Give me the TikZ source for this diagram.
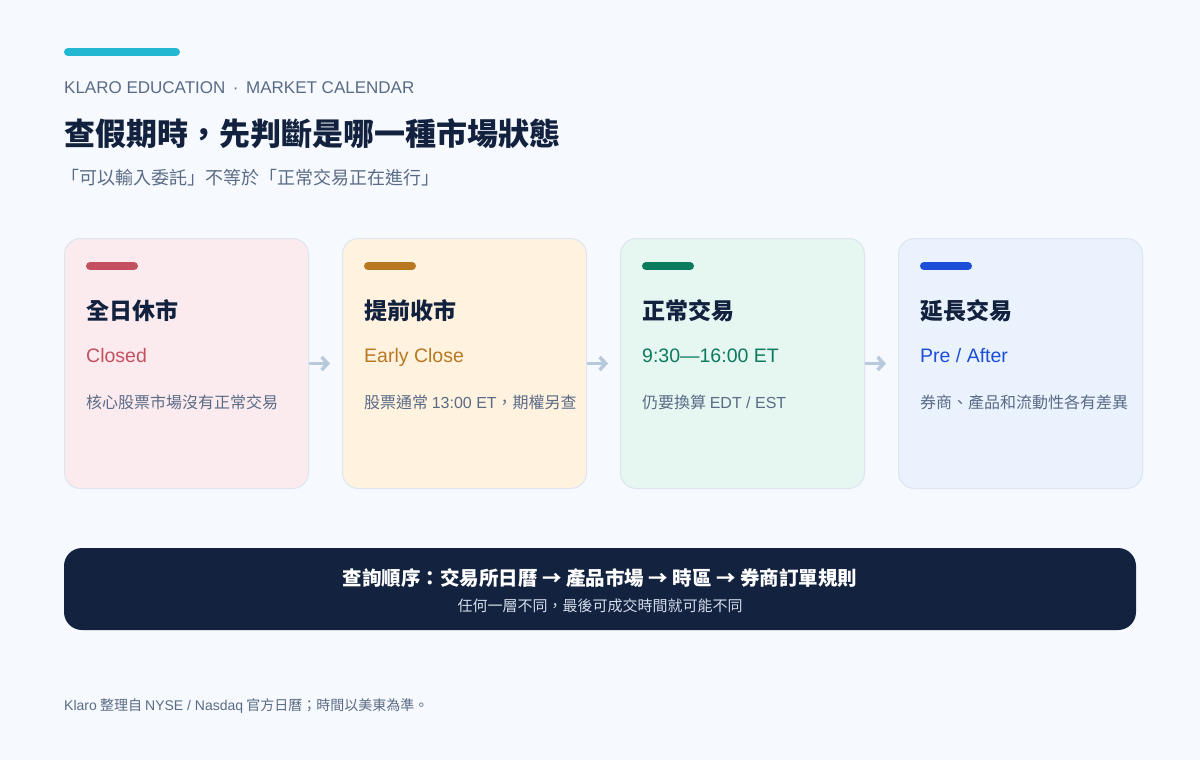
\documentclass[tikz,border=0pt]{standalone}
\usepackage{fontspec}
\setmainfont{Noto Sans CJK TC}
\newfontfamily\latin{Liberation Sans}
\newcommand\lat[1]{{\latin #1}}
\usetikzlibrary{arrows.meta}

\definecolor{pagebg}{HTML}{F6F9FD}
\definecolor{ink}{HTML}{12213D}
\definecolor{slate}{HTML}{5A6B86}
\definecolor{cyanbar}{HTML}{22B8D2}
\definecolor{cardline}{HTML}{DCE5F0}
\definecolor{arrowc}{HTML}{B9C9DD}
\definecolor{navy}{HTML}{12223F}
\definecolor{navytext}{HTML}{D3DCEA}
\definecolor{cardred}{HTML}{FCEBEE}
\definecolor{cardamber}{HTML}{FFF3E0}
\definecolor{cardgreen}{HTML}{E6F6F1}
\definecolor{cardblue}{HTML}{E9F2FD}
\definecolor{accred}{HTML}{C4505F}
\definecolor{accamber}{HTML}{B87822}
\definecolor{accgreen}{HTML}{0B7A5F}
\definecolor{accblue}{HTML}{1D4ED8}

\begin{document}
\begin{tikzpicture}[x=1pt, y=-1pt,
    card/.style={draw=cardline, line width=1pt, rounded corners=16pt,
      minimum width=244pt, minimum height=250pt, inner sep=0pt},
    bar/.style={line width=8pt, line cap=round},
    txt/.style={anchor=base west, inner sep=0pt},
    flow/.style={draw=arrowc, line width=3.5pt, line cap=round, line join=round,
      -{Straight Barb[length=6pt,width=13pt]}, shorten <=1pt, shorten >=12pt}]
  % page
  \fill[pagebg] (0,0) rectangle (1200,760);
  \useasboundingbox (0,0) rectangle (1200,760);

  % header
  \draw[bar, cyanbar] (68,52) -- (176,52);
  \node[txt, text=slate, font=\latin\fontsize{17}{20}\selectfont] (kicker) at (64,94)
    {KLARO EDUCATION \,·\, MARKET CALENDAR};
  \node[txt, text=ink, font=\fontsize{31}{35}\selectfont\bfseries] (title) at (64,145)
    {查假期時，先判斷是哪一種市場狀態};
  \node[txt, text=slate, font=\fontsize{18}{21}\selectfont] (subtitle) at (61,184)
    {「可以輸入委託」不等於「正常交易正在進行」};

  % cards
  \foreach \n/\x/\bgc/\acc/\head/\state/\note in {
      closed/64/cardred/accred/全日休市/Closed/核心股票市場沒有正常交易,
      early/342/cardamber/accamber/提前收市/Early Close/{股票通常 \lat{13:00 ET}，期權另查},
      regular/620/cardgreen/accgreen/正常交易/{9:30—16:00 ET}/{仍要換算 \lat{EDT / EST}},
      extended/898/cardblue/accblue/延長交易/{Pre / After}/券商、產品和流動性各有差異}{
    \node[card, fill=\bgc, anchor=north west] (\n) at (\x,238) {};
    \draw[bar, \acc] (\x+26,266) -- (\x+70,266);
    \node[txt, text=ink, font=\fontsize{23}{26}\selectfont\bfseries] (\n-head) at (\x+22,319) {\head};
    \node[txt, text=\acc, font=\latin\fontsize{19.5}{22}\selectfont] (\n-state) at (\x+22,362) {\state};
    \node[txt, text=slate, font=\fontsize{16}{19}\selectfont] (\n-note) at (\x+22,408) {\note};
  }

  \draw[flow] (closed.east) -- (early.west);
  \draw[flow] (early.east) -- (regular.west);
  \draw[flow] (regular.east) -- (extended.west);

  % lookup order
  \node[fill=navy, rounded corners=18pt, minimum width=1072pt, minimum height=82pt,
    inner sep=0pt] (order) at (600,589) {};
  \node[anchor=base, inner sep=0pt, text=white, font=\fontsize{19.5}{22}\selectfont\bfseries]
    (order-main) at (600,585) {查詢順序：交易所日曆 → 產品市場 → 時區 → 券商訂單規則};
  \node[anchor=base, inner sep=0pt, text=navytext, font=\fontsize{15}{17}\selectfont]
    (order-sub) at (600,611) {任何一層不同，最後可成交時間就可能不同};

  % source
  \node[txt, text=slate, font=\fontsize{14}{16}\selectfont] (source) at (64,710)
    {\lat{Klaro} 整理自 \lat{NYSE / Nasdaq} 官方日曆；時間以美東為準。};
\end{tikzpicture}
\end{document}
